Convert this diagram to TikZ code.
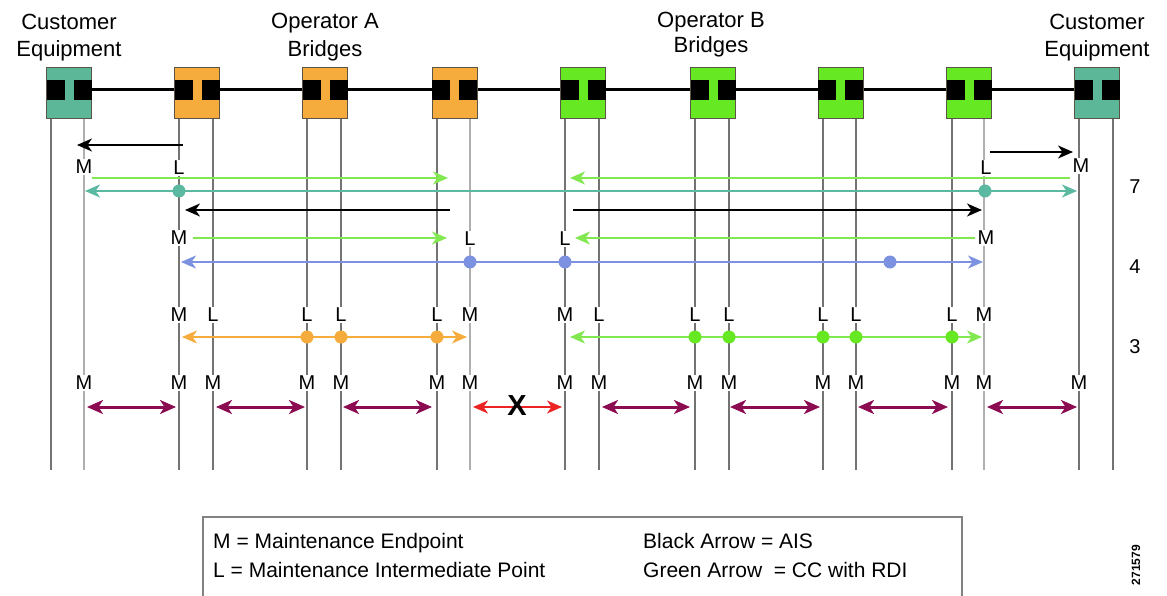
\documentclass[tikz,border=0pt]{standalone}
\usepackage{fontspec}
\setmainfont{Liberation Sans}
\usetikzlibrary{arrows.meta}
\definecolor{custc}{RGB}{92,182,152}
\definecolor{orc}{RGB}{245,172,60}
\definecolor{grc}{RGB}{102,232,34}
\definecolor{boxb}{RGB}{90,85,70}
\definecolor{vgray}{RGB}{115,115,115}
\definecolor{lgray}{RGB}{175,175,175}
\definecolor{garr}{RGB}{130,232,80}
\definecolor{tarr}{RGB}{90,185,160}
\definecolor{barr}{RGB}{125,145,225}
\definecolor{parr}{RGB}{140,12,82}
\definecolor{rarr}{RGB}{235,35,35}
\definecolor{legb}{RGB}{130,130,130}
\begin{document}
\begin{tikzpicture}[x=1pt,y=-1pt,
  vl/.style={draw=vgray,line width=1.3pt},
  vlt/.style={draw=lgray,line width=2pt},
  bridge/.style={draw=boxb,line width=0.8pt,minimum width=45pt,minimum height=51pt,inner sep=0pt},
  port/.style={fill=black,minimum width=18pt,minimum height=20pt,inner sep=0pt},
  toplbl/.style={font=\fontsize{22}{26}\selectfont,anchor=base,inner sep=0pt},
  lbl/.style={font=\fontsize{20}{24}\selectfont,fill=white,inner sep=1.5pt},
  digit/.style={font=\fontsize{20}{24}\selectfont,inner sep=0pt},
  tip/.tip={Stealth[length=15pt,width=13pt,inset=4.5pt]},
  ptip/.tip={Stealth[length=16pt,width=14pt,inset=4.5pt]},
  karr/.style={-tip,line width=2pt,draw=black},
  oarr/.style={-tip,line width=2.2pt},
  darr/.style={tip-tip,line width=2.2pt},
  parrow/.style={ptip-ptip,line width=3pt,draw=parr},
  pdot/.style={circle,inner sep=0pt,minimum size=13pt},
  legtxt/.style={font=\fontsize{21}{25}\selectfont,anchor=base west,inner sep=0pt}
]
\useasboundingbox (0,0) rectangle (1167,596);

% vertical lines
\foreach \n/\x/\s in {a/51/vl, b/84/vlt, c/179/vl, d/213/vl, e/307/vl, f/341/vl, g/437/vl, h/470/vlt, i/565/vl, j/599/vl, k/695/vl, l/729/vl, m/823/vl, n/856/vl, o/952/vl, p/984/vlt, q/1079/vl, r/1113/vl}{
  \coordinate (t\n) at (\x,118);
  \coordinate (b\n) at (\x,470);
  \draw[\s] (t\n) -- (b\n);
}

% main wire
\coordinate (wl) at (47,90);
\coordinate (wr) at (1120,90);
\draw[line width=3pt] (wl) -- (wr);

% bridges
\foreach \n/\x/\c in {ce1/69/custc, oa1/197/orc, oa2/325/orc, oa3/454.5/orc, ob1/583/grc, ob2/713/grc, ob3/840.5/grc, ob4/969/grc, ce2/1097/custc}{
  \node[bridge,fill=\c] (\n) at (\x,92.5) {};
  \node[port] (\n-l) at ({\x-13.5},90) {};
  \node[port] (\n-r) at ({\x+13.5},90) {};
}

% top labels
\node[toplbl] (tc1) at (69,30) {Customer};
\node[toplbl] (tc2) at (69,57) {Equipment};
\node[toplbl] (ta1) at (325,29) {Operator A};
\node[toplbl] (ta2) at (325,57) {Bridges};
\node[toplbl] (tb1) at (711,28) {Operator B};
\node[toplbl] (tb2) at (711,53) {Bridges};
\node[toplbl] (td1) at (1097,30) {Customer};
\node[toplbl] (td2) at (1097,57) {Equipment};

% ---- level 7 ----
\coordinate (k1s) at (183,145); \coordinate (k1e) at (77,145);
\draw[karr] (k1s) -- (k1e);
\coordinate (k2s) at (990,152); \coordinate (k2e) at (1073,152);
\draw[karr] (k2s) -- (k2e);
\node[lbl] (m7a) at (84,167) {M};
\node[lbl] (l7a) at (179,168) {L};
\node[lbl] (l7b) at (986,168) {L};
\node[lbl] (m7b) at (1081,166) {M};
\coordinate (g7as) at (92,178); \coordinate (g7ae) at (448,178);
\draw[oarr,draw=garr] (g7as) -- (g7ae);
\coordinate (g7bs) at (1070,178); \coordinate (g7be) at (570,178);
\draw[oarr,draw=garr] (g7bs) -- (g7be);
\coordinate (t7a) at (85,191); \coordinate (t7b) at (1077,191);
\draw[darr,draw=tarr] (t7a) -- (t7b);
\node[pdot,fill=tarr] (d7a) at (179,191) {};
\node[pdot,fill=tarr] (d7b) at (985,191) {};
\node[digit] (n7) at (1135,187) {7};

% ---- level 4 ----
\coordinate (k3s) at (450,210); \coordinate (k3e) at (185,210);
\draw[karr] (k3s) -- (k3e);
\coordinate (k4s) at (573,210); \coordinate (k4e) at (982,210);
\draw[karr] (k4s) -- (k4e);
\node[lbl] (m4a) at (179,238) {M};
\node[lbl] (l4a) at (470,239) {L};
\node[lbl] (l4b) at (565,239) {L};
\node[lbl] (m4b) at (986,238) {M};
\coordinate (g4as) at (193,238); \coordinate (g4ae) at (447,238);
\draw[oarr,draw=garr] (g4as) -- (g4ae);
\coordinate (g4bs) at (975,238); \coordinate (g4be) at (575,238);
\draw[oarr,draw=garr] (g4bs) -- (g4be);
\coordinate (b4a) at (181,262); \coordinate (b4b) at (983,262);
\draw[darr,draw=barr] (b4a) -- (b4b);
\foreach \x [count=\i] in {470,565,890}{
  \node[pdot,fill=barr] (db\i) at (\x,262) {};
}
\node[digit] (n4) at (1135,267) {4};

% ---- level 3 ----
\foreach \x/\t [count=\i] in {179/M,213/L,307/L,341/L,437/L,470/M,565/M,599/L,695/L,729/L,823/L,856/L,952/L,984/M}{
  \node[lbl] (r3\i) at (\x,315) {\t};
}
\coordinate (o3a) at (182,337); \coordinate (o3b) at (467,337);
\draw[darr,draw=orc] (o3a) -- (o3b);
\foreach \x [count=\i] in {307,341,437}{
  \node[pdot,fill=orc] (do\i) at (\x,337) {};
}
\coordinate (g3a) at (570,337); \coordinate (g3b) at (982,337);
\draw[darr,draw=garr] (g3a) -- (g3b);
\foreach \x [count=\i] in {695,729,823,856,952}{
  \node[pdot,fill=grc] (dg\i) at (\x,337) {};
}
\node[digit] (n3) at (1135,347) {3};

% ---- level 0 (links) ----
\foreach \x [count=\i] in {84,179,213,307,341,437,470,565,599,695,729,823,856,952,984,1079}{
  \node[lbl] (r0\i) at (\x,383) {M};
}
\foreach \a/\b [count=\i] in {87/176, 216/305, 343/432, 602/690, 730/820, 858/948, 987/1077}{
  \coordinate (pa\i) at (\a,407); \coordinate (pb\i) at (\b,407);
  \draw[parrow] (pa\i) -- (pb\i);
}
\coordinate (ra) at (473,407); \coordinate (rb) at (562,407);
\draw[tip-tip,line width=2.2pt,draw=rarr] (ra) -- (rb);
\node[font=\fontsize{29}{31}\selectfont\bfseries,inner sep=0pt] (xx) at (517,406) {X};

% legend
\coordinate (lg1) at (203,600); \coordinate (lg2) at (203,517);
\coordinate (lg3) at (962,517); \coordinate (lg4) at (962,600);
\draw[draw=legb,line width=1.2pt] (lg1) -- (lg2) -- (lg3) -- (lg4);
\node[legtxt] (le1) at (213,548) {M = Maintenance Endpoint};
\node[legtxt] (le2) at (213,577) {L = Maintenance Intermediate Point};
\node[legtxt] (le3) at (643,548) {Black Arrow = AIS};
\node[legtxt] (le4) at (643,577) {Green Arrow\ \ = CC with RDI};

\node[font=\fontsize{12}{14}\selectfont\bfseries,rotate=90,inner sep=0pt] (fig) at (1136,565) {271579};
\end{tikzpicture}
\end{document}
